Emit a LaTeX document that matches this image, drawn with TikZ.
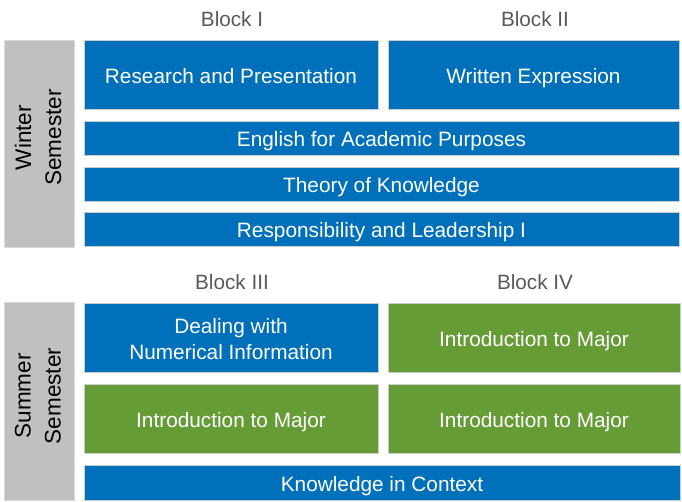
\documentclass[tikz,border=0pt]{standalone}
\usepackage{fontspec}
\setmainfont{Liberation Sans}
\definecolor{cblue}{RGB}{0,112,186}
\definecolor{cgreen}{RGB}{102,156,53}
\definecolor{cgray}{RGB}{192,192,192}
\definecolor{ctext}{RGB}{89,89,89}
\begin{document}
\begin{tikzpicture}[x=1pt,y=-1pt,
  course/.style={draw=white!80!black, line width=0.6pt, text=white, font=\fontsize{20.8}{26}\selectfont, align=center, inner sep=0pt, text depth=1pt},
  bluebox/.style={course, fill=cblue},
  greenbox/.style={course, fill=cgreen},
  sem/.style={draw=white!85!black, line width=0.6pt, fill=cgray, inner sep=0pt},
  semtext/.style={rotate=90, text=black, font=\fontsize{22.5}{30}\selectfont, align=center, inner sep=0pt},
  blk/.style={text=ctext, font=\fontsize{20.7}{24}\selectfont, inner sep=0pt}]
\useasboundingbox (0,0) rectangle (682,502);
% winter
\node[blk] (b1) at (232,19) {Block I};
\node[blk] (b2) at (535,19) {Block II};
\node[sem, minimum width=70pt, minimum height=207pt] (win) at (39,143.5) {};
\node[semtext] (wint) at ([xshift=-1pt,yshift=6pt]win.center) {Winter\\Semester};
\node[bluebox, minimum width=294pt, minimum height=69pt] (rp) at (231,74.5) {Research and Presentation\strut};
\node[bluebox, minimum width=291pt, minimum height=69pt] (we) at (533.5,74.5) {Written Expression\strut};
\node[bluebox, minimum width=595pt, minimum height=34pt] (eap) at (381.5,138) {English for Academic Purposes\strut};
\node[bluebox, minimum width=595pt, minimum height=34pt] (tok) at (381.5,184) {Theory of Knowledge\strut};
\node[bluebox, minimum width=595pt, minimum height=34pt] (rl) at (381.5,229) {Responsibility and Leadership I\strut};
% summer
\node[blk] (b3) at (232,282) {Block III};
\node[blk] (b4) at (535,282) {Block IV};
\node[sem, minimum width=70pt, minimum height=198pt] (sum) at (39,401) {};
\node[semtext] (sumt) at ([xshift=-1pt,yshift=5pt]sum.center) {Summer\\Semester};
\node[bluebox, minimum width=294pt, minimum height=69pt] (dn) at (231,337.5) {Dealing with\strut\\Numerical Information\strut};
\node[greenbox, minimum width=292pt, minimum height=69pt] (im1) at (534,337.5) {Introduction to Major\strut};
\node[greenbox, minimum width=294pt, minimum height=69pt] (im2) at (231,418.5) {Introduction to Major\strut};
\node[greenbox, minimum width=292pt, minimum height=69pt] (im3) at (534,418.5) {Introduction to Major\strut};
\node[bluebox, minimum width=596pt, minimum height=35pt] (kc) at (382,482.5) {Knowledge in Context\strut};
\end{tikzpicture}
\end{document}
